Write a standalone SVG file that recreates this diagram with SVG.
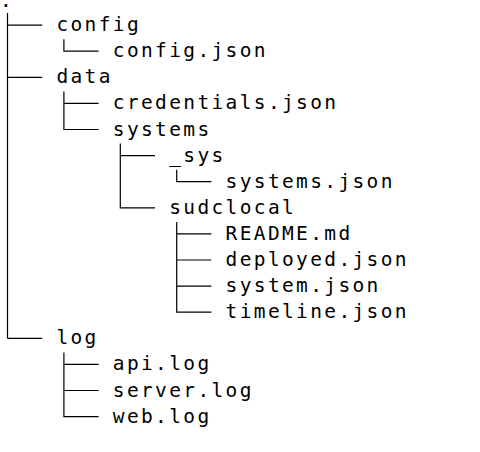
<svg xmlns="http://www.w3.org/2000/svg" width="480" height="452" viewBox="0 0 480 452">
<style>
text{font-family:"DejaVu Sans Mono","Liberation Mono",monospace;font-size:19.5px;letter-spacing:2.36px;fill:#000}
.c{fill:none;stroke:#000;stroke-width:1.2}
</style>
<rect width="480" height="452" fill="#fff"/>
<g id="connectors">
<path class="c" d="M7.5 13.1V338.3M7.5 25.1H42.3M7.5 77.3H42.3M7.5 338.3H42.3"/>
<path class="c" d="M63.9 39.2V51.2H98.6"/>
<path class="c" d="M63.9 91.4V129.5H98.6M63.9 103.4H98.6"/>
<path class="c" d="M120.3 143.6V207.8H155M120.3 155.6H155"/>
<path class="c" d="M176.7 169.7V181.7H211.4"/>
<path class="c" d="M176.7 221.9V312.2H211.4M176.7 233.9H211.4M176.7 260H211.4M176.7 286.1H211.4"/>
<path class="c" d="M63.9 352.4V416.6H98.6M63.9 364.4H98.6M63.9 390.5H98.6"/>
</g>
<g id="root"><text x="0" y="6.5">.</text></g>
<g id="config"><text x="56.4" y="31.1">config</text></g>
<g id="config-json"><text x="112.8" y="57.2">config.json</text></g>
<g id="data"><text x="56.4" y="83.3">data</text></g>
<g id="credentials-json"><text x="112.8" y="109.4">credentials.json</text></g>
<g id="systems"><text x="112.8" y="135.5">systems</text></g>
<g id="sys"><text x="169.2" y="161.6">_sys</text></g>
<g id="systems-json"><text x="225.6" y="187.7">systems.json</text></g>
<g id="sudclocal"><text x="169.2" y="213.8">sudclocal</text></g>
<g id="readme-md"><text x="225.6" y="239.9">README.md</text></g>
<g id="deployed-json"><text x="225.6" y="266">deployed.json</text></g>
<g id="system-json"><text x="225.6" y="292.1">system.json</text></g>
<g id="timeline-json"><text x="225.6" y="318.2">timeline.json</text></g>
<g id="log"><text x="56.4" y="344.3">log</text></g>
<g id="api-log"><text x="112.8" y="370.4">api.log</text></g>
<g id="server-log"><text x="112.8" y="396.5">server.log</text></g>
<g id="web-log"><text x="112.8" y="422.6">web.log</text></g>
</svg>
